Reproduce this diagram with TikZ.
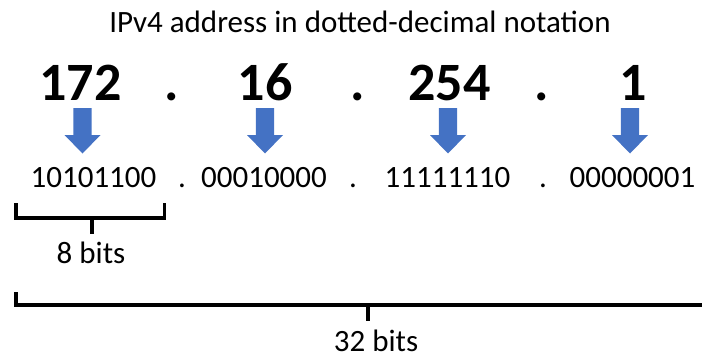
\documentclass[tikz,border=0pt]{standalone}
\usepackage{fontspec}
\setmainfont{Carlito}
\definecolor{arrowblue}{HTML}{4472C4}
\begin{document}
\begin{tikzpicture}[x=1pt,y=1pt,
  titletext/.style={font=\fontsize{31}{36}\selectfont, anchor=base, inner sep=0pt},
  bignum/.style={font=\fontsize{54}{60}\selectfont\bfseries, anchor=base, inner sep=0pt},
  bintext/.style={font=\fontsize{31}{36}\selectfont, anchor=base, inner sep=0pt},
  lbltext/.style={font=\fontsize{31}{36}\selectfont, anchor=base, inner sep=0pt},
  brk/.style={line width=3.5pt, line cap=butt, line join=miter},
  downarrow/.pic={\fill[arrowblue] (-9.2,0) -- (-9.2,-27) -- (-18,-27) -- (0,-45.5) -- (18,-27) -- (9.2,-27) -- (9.2,0) -- cycle;}
]
\useasboundingbox (0,0) rectangle (702,360);
% title
\node[titletext] (title) at (360,328) {IPv4 address in dotted-decimal notation};
% big numbers
\node[bignum] (n1) at (80.5,260) {172};
\node[bignum] (d1) at (172,260) {.};
\node[bignum] (n2) at (265,260) {16};
\node[bignum] (d2) at (358,260) {.};
\node[bignum] (n3) at (449.5,260) {254};
\node[bignum] (d3) at (542,260) {.};
\node[bignum] (n4) at (633,260) {1};
% arrows
\coordinate (a1) at (82.5,252);
\coordinate (a2) at (265,252);
\coordinate (a3) at (448,252);
\coordinate (a4) at (630,252);
\pic at (a1) {downarrow};
\pic at (a2) {downarrow};
\pic at (a3) {downarrow};
\pic at (a4) {downarrow};
% binary
\node[bintext] (b1) at (93.5,173) {10101100};
\node[bintext] (e1) at (182,173) {.};
\node[bintext] (b2) at (264,173) {00010000};
\node[bintext] (e2) at (353,173) {.};
\node[bintext] (b3) at (447.5,173) {11111110};
\node[bintext] (e3) at (543,173) {.};
\node[bintext] (b4) at (632.5,173) {00000001};
% 8 bits bracket
\coordinate (s1) at (16,157);
\coordinate (s2) at (164.5,157);
\coordinate (st) at (92,142);
\draw[brk] (s1) -- (16,142) -- (164.5,142) -- (s2);
\draw[brk] (st) -- (92,126);
\node[lbltext] (l8) at (91,97) {8 bits};
% 32 bits bracket
\coordinate (t1) at (16,68);
\coordinate (t2) at (704,55);
\coordinate (tt) at (368,55);
\draw[brk] (t1) -- (16,55) -- (t2);
\draw[brk] (tt) -- (368,39);
\node[lbltext] (l32) at (376,8.5) {32 bits};
\end{tikzpicture}
\end{document}
